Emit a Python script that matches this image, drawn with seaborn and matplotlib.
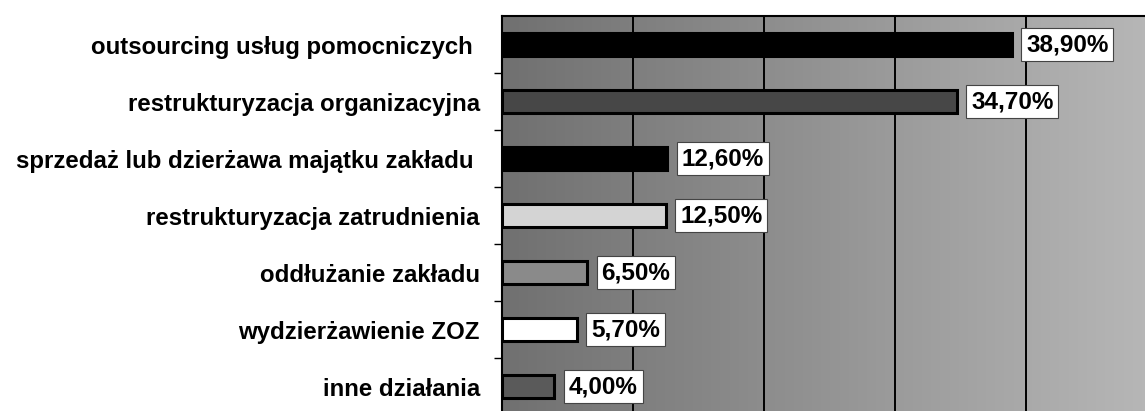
import matplotlib
matplotlib.use("Agg")
import matplotlib.pyplot as plt
import seaborn as sns
import numpy as np
import pandas as pd

categories = [
    "outsourcing usług pomocniczych ",
    "restrukturyzacja organizacyjna",
    "sprzedaż lub dzierżawa majątku zakładu ",
    "restrukturyzacja zatrudnienia",
    "oddłużanie zakładu",
    "wydzierżawienie ZOZ",
    "inne działania",
]
values = [38.9, 34.7, 12.6, 12.5, 6.5, 5.7, 4.0]
value_labels = ["38,90%", "34,70%", "12,60%", "12,50%", "6,50%", "5,70%", "4,00%"]
bar_colors = ["#000000", "#474747", "#000000", "#d4d4d4", "#8a8a8a", "#ffffff", "#5a5a5a"]

sns.set_theme(style="white")
plt.rcParams["font.family"] = ["Liberation Sans", "DejaVu Sans"]

W, H = 1145, 411
fig = plt.figure(figsize=(W / 100, H / 100), dpi=100)
left_px, top_px, bottom_px = 502, 16, 415
px_per_unit = 13.1
xmax = 50
right_px = left_px + xmax * px_per_unit
ax = fig.add_axes([left_px / W, 1 - bottom_px / H, (right_px - left_px) / W, (bottom_px - top_px) / H])

# smooth gradient background (RGB image, no colormap quantisation)
g = np.linspace(0.44, 0.72, 700)
grad = np.repeat(np.stack([g, g, g], axis=-1)[None, :, :], 4, axis=0)
ax.imshow(grad, aspect="auto", interpolation="bilinear",
          extent=[0, xmax, 6.5, -0.5], zorder=0)

df = pd.DataFrame({"cat": categories, "val": values})
sns.barplot(data=df, x="val", y="cat", hue="cat", palette=bar_colors, legend=False,
            orient="h", width=0.42, edgecolor="black", linewidth=2.2, ax=ax, zorder=3)

ax.set_xlim(0, xmax)
ax.set_ylim(6.5, -0.5)
for gx in [10, 20, 30, 40]:
    ax.axvline(gx, color="black", linewidth=1.4, zorder=1)

for i, (v, lab) in enumerate(zip(values, value_labels)):
    ax.text(v + 1.1, i, lab, ha="left", va="center", fontsize=17.5, fontweight="bold",
            color="black", zorder=5,
            bbox=dict(boxstyle="square,pad=0.2", facecolor="white", edgecolor="#444444", linewidth=0.8))

ax.set_xlabel("")
ax.set_ylabel("")
ax.set_xticks([])
ax.set_yticks(range(len(categories)))
ax.set_yticklabels(categories, fontsize=17.3, fontweight="bold", color="black")
ax.set_yticks(np.arange(0.5, len(categories) - 1, 1.0), minor=True)
ax.tick_params(axis="y", which="major", length=0, pad=16)
ax.tick_params(axis="y", which="minor", length=6, width=1, color="black", direction="out", left=True)

for s in ["left", "top"]:
    ax.spines[s].set_color("black")
    ax.spines[s].set_linewidth(1.5)
ax.spines["right"].set_visible(False)
ax.spines["bottom"].set_visible(False)

fig.savefig("out.png", dpi=100, facecolor="white")
